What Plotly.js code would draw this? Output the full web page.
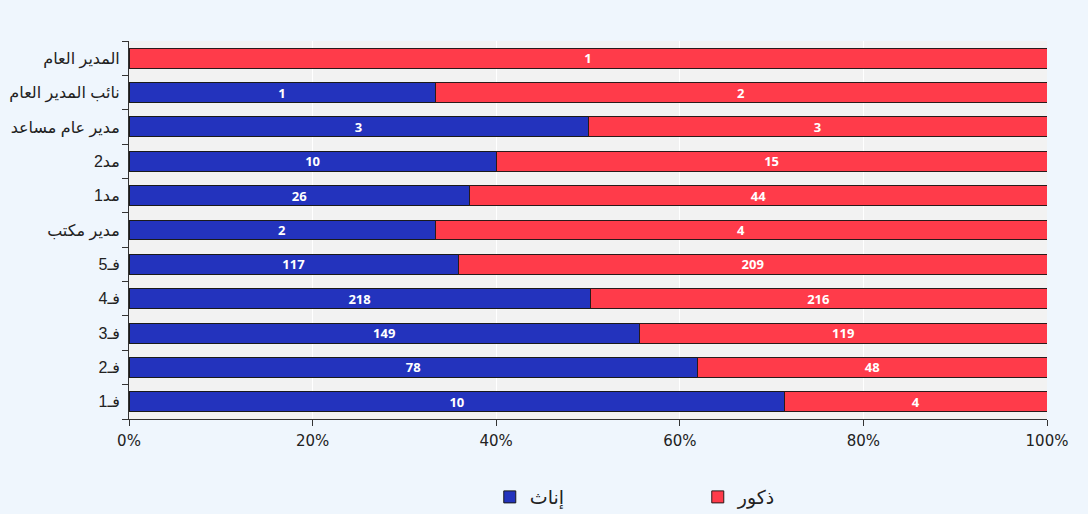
<!DOCTYPE html>
<html><head><meta charset="utf-8">
<script src="https://cdn.plot.ly/plotly-3.0.1.min.js"></script>
<style>html,body{margin:0;padding:0;background:#eff6fd;}</style>
</head><body>
<div id="chart" style="width:1088px;height:514px;"></div>
<script>
const categories = ["فـ1","فـ2","فـ3","فـ4","فـ5","مدير مكتب","مد1","مد2","مدير عام مساعد","نائب المدير العام","المدير العام"];
const females = [10,78,149,218,117,2,26,10,3,1,0];
const males = [4,48,119,216,209,4,44,15,3,2,1];
const tickVals = [0,20,40,60,80,100];
const tickText = ["0%","20%","40%","60%","80%","100%"];

const lbl = v => v.map(x => x === 0 ? "" : String(x));
const common = {
  type: "bar", orientation: "h", y: categories,
  textposition: "inside", insidetextanchor: "middle", textangle: 0, constraintext: "none",
  textfont: {family: "Open Sans, DejaVu Sans, sans-serif", size: 13, color: "#ffffff", weight: "bold"},
  hoverinfo: "skip"
};
const data = [
  Object.assign({}, common, {name: "إناث", x: females, text: lbl(females), texttemplate: "%{text}",
    marker: {color: "#2333bd", line: {color: "#1a1a1a", width: 1}}}),
  Object.assign({}, common, {name: "ذكور", x: males, text: lbl(males), texttemplate: "%{text}",
    marker: {color: "#ff3b4a", line: {color: "#2a1a1a", width: 1}}})
];
const layout = {
  width: 1088, height: 514,
  barmode: "stack", barnorm: "percent", bargap: 0.42,
  paper_bgcolor: "#eff6fd", plot_bgcolor: "#f2f2f2",
  margin: {l: 129, r: 41, t: 41, b: 95},
  font: {family: "Liberation Sans, Arial, DejaVu Sans, sans-serif", size: 14, color: "#222"},
  xaxis: {range: [0, 100], tickvals: tickVals, ticktext: tickText, showgrid: true, gridcolor: "#ffffff", gridwidth: 1,
    showline: true, linecolor: "#333", linewidth: 1, ticks: "outside", ticklen: 6, tickcolor: "#333",
    zeroline: false, tickfont: {size: 15, family: "DejaVu Sans, sans-serif"}, ticklabelstandoff: 2, fixedrange: true},
  yaxis: {type: "category", showline: true, linecolor: "#333", linewidth: 1, ticks: "outside", ticklen: 6, tickcolor: "#333",
    tickson: "boundaries", showgrid: false, tickfont: {size: 16}, ticklabelstandoff: 5},
  legend: {orientation: "h", x: 0.393, xanchor: "left", yref: "container", y: 0.033, yanchor: "middle",
    font: {size: 19}, traceorder: "normal", entrywidth: 163, entrywidthmode: "pixels"},
  showlegend: true
};
Plotly.newPlot("chart", data, layout, {displayModeBar: false, staticPlot: true});
</script>
</body></html>
